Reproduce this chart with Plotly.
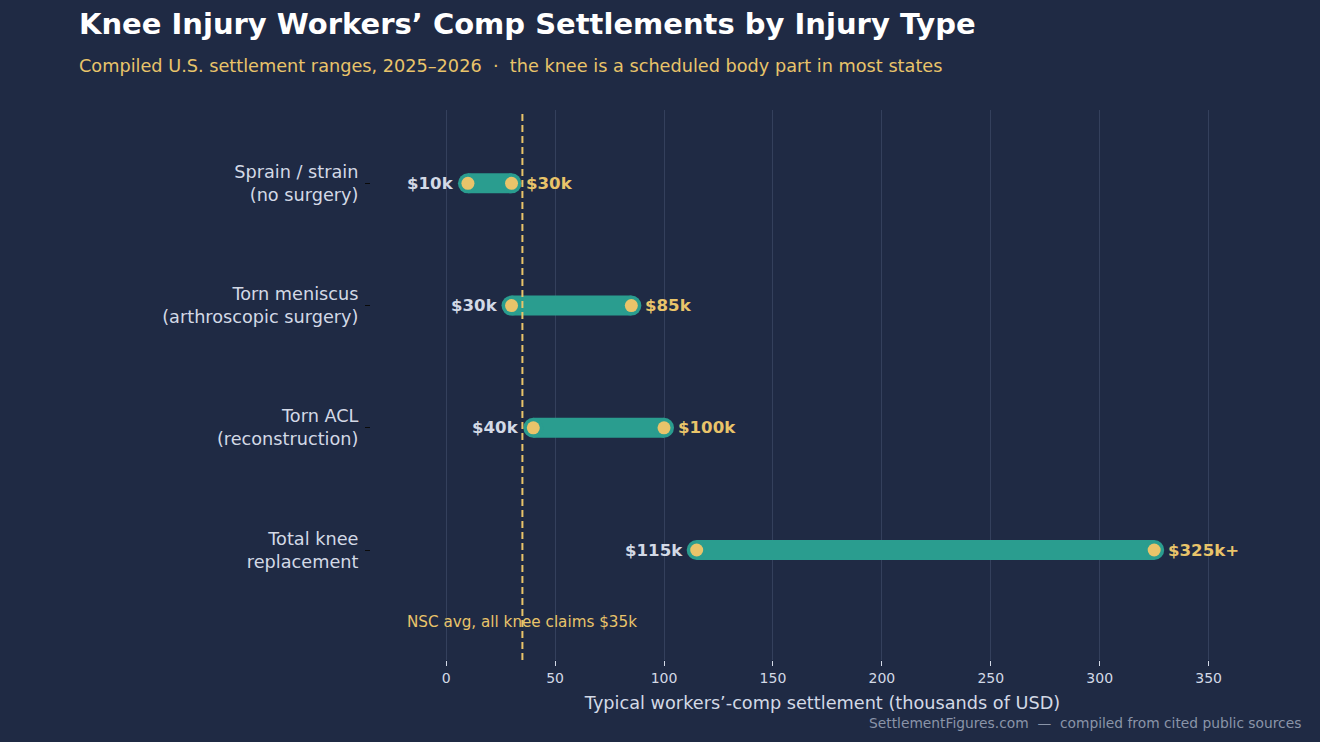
import plotly.graph_objects as go

categories = ["Sprain / strain<br>(no surgery)",
              "Torn meniscus<br>(arthroscopic surgery)",
              "Torn ACL<br>(reconstruction)",
              "Total knee<br>replacement"]
low_values = [10, 30, 40, 115]
high_values = [30, 85, 100, 325]
low_labels = ["$10k", "$30k", "$40k", "$115k"]
high_labels = ["$30k", "$85k", "$100k", "$325k+"]
nsc_avg = 35
x_ticks = [0, 50, 100, 150, 200, 250, 300, 350]

BG = "#1f2a44"
TEAL = "#2a9d8f"
YELLOW = "#e9c46a"
LIGHT = "#d3d9e6"
GRID = "#34405c"
FONT = "DejaVu Sans"

fig = go.Figure()

for cat, lo, hi in zip(categories, low_values, high_values):
    fig.add_trace(go.Scatter(
        x=[lo, hi], y=[cat, cat], mode="lines+markers",
        line=dict(color=TEAL, width=20),
        marker=dict(color=TEAL, size=20, line=dict(width=0)),
        hoverinfo="skip", showlegend=False))

fig.add_trace(go.Scatter(
    x=low_values + high_values, y=categories + categories, mode="markers",
    marker=dict(color=YELLOW, size=13, line=dict(width=0)),
    showlegend=False))

annotations = []
for cat, lo, hi, ll, hl in zip(categories, low_values, high_values, low_labels, high_labels):
    annotations.append(dict(x=lo, y=cat, xref="x", yref="y", text=ll, showarrow=False,
                            xanchor="right", yanchor="middle", xshift=-12,
                            font=dict(family=FONT, size=16.6, color=LIGHT, weight="bold")))
    annotations.append(dict(x=hi, y=cat, xref="x", yref="y", text=hl, showarrow=False,
                            xanchor="left", yanchor="middle", xshift=12,
                            font=dict(family=FONT, size=16.6, color=YELLOW, weight="bold")))

annotations.append(dict(x=nsc_avg, y=0.069, xref="x", yref="paper",
                        text="NSC avg, all knee claims $35k", showarrow=False,
                        xanchor="center", yanchor="middle",
                        font=dict(family=FONT, size=15.2, color=YELLOW)))

annotations.append(dict(x=-0.3258, y=1.08, xref="paper", yref="paper",
                        text="Compiled U.S. settlement ranges, 2025\u20132026  \u00b7  the knee is a scheduled body part in most states",
                        showarrow=False, xanchor="left", yanchor="middle",
                        font=dict(family=FONT, size=17.7, color=YELLOW)))

annotations.append(dict(x=1.0326, y=-0.1145, xref="paper", yref="paper",
                        text="SettlementFigures.com  \u2014  compiled from cited public sources",
                        showarrow=False, xanchor="right", yanchor="middle",
                        font=dict(family=FONT, size=13.8, color="#8a94a8")))

fig.add_shape(type="line", x0=nsc_avg, x1=nsc_avg, y0=0, y1=1, xref="x", yref="paper",
              line=dict(color=YELLOW, width=2, dash="7px,4px"), layer="above")

fig.update_layout(
    width=1320, height=742,
    paper_bgcolor=BG, plot_bgcolor=BG,
    margin=dict(l=371, r=46, t=110, b=82),
    font=dict(family=FONT, color=LIGHT),
    title=dict(text="<b>Knee Injury Workers\u2019 Comp Settlements by Injury Type</b>",
               x=79 / 1320, xanchor="left", xref="container",
               y=1 - 24 / 742, yanchor="middle", yref="container",
               font=dict(family=FONT, size=29, color="#ffffff")),
    annotations=annotations,
    xaxis=dict(range=[-34.5, 380], tickvals=x_ticks, showgrid=True, gridcolor=GRID,
               gridwidth=1, zeroline=False, showline=False,
               ticks="outside", ticklen=5, tickcolor=LIGHT,
               tickfont=dict(family=FONT, size=14, color=LIGHT),
               title=dict(text="Typical workers\u2019-comp settlement (thousands of USD)",
                          font=dict(family=FONT, size=17.7, color=LIGHT), standoff=11)),
    yaxis=dict(type="category", categoryorder="array", categoryarray=categories,
               range=[3.9, -0.6], showgrid=False, zeroline=False, showline=False,
               ticks="outside", ticklen=5, tickcolor="#0a0a0a", ticklabelstandoff=3,
               tickfont=dict(family=FONT, size=17.7, color=LIGHT)),
)

fig.write_html("out.html")
